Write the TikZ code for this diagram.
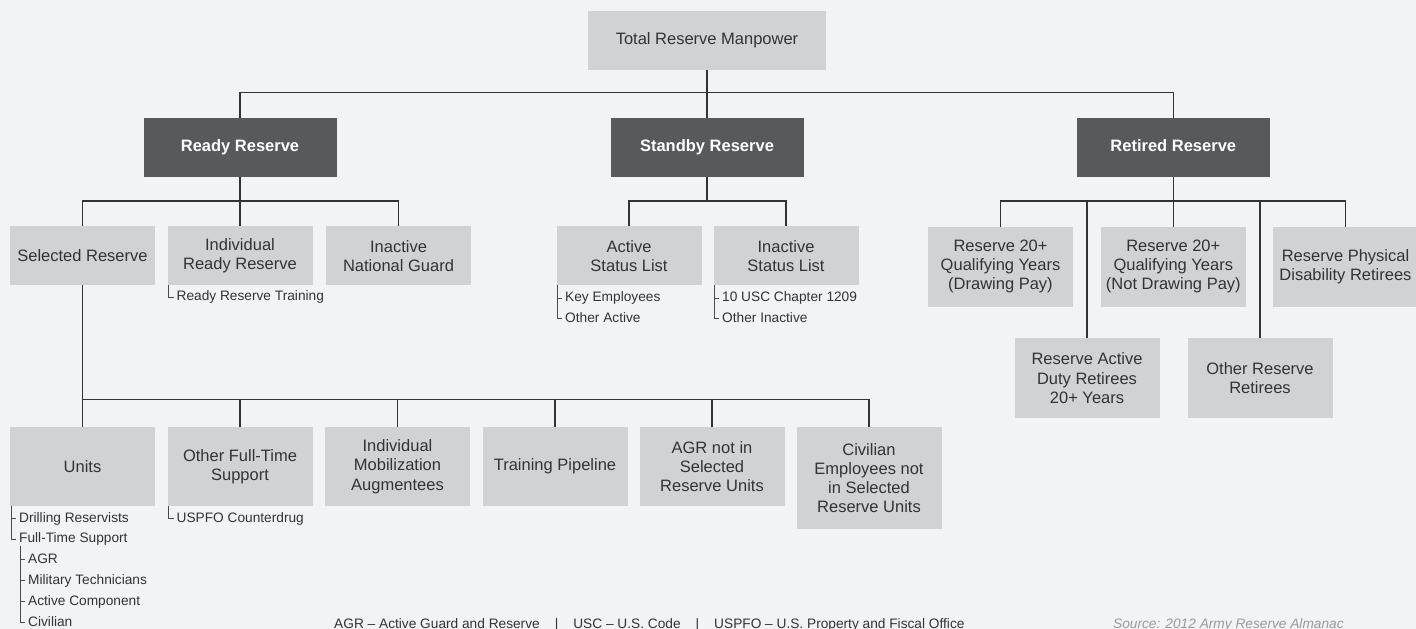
\documentclass[tikz,border=0pt]{standalone}
\usepackage{fontspec}
\setmainfont{Liberation Sans}
\definecolor{bg}{HTML}{F2F3F5}
\definecolor{lightbox}{HTML}{D1D2D4}
\definecolor{darkbox}{HTML}{58595B}
\definecolor{txt}{HTML}{333333}
\definecolor{linec}{HTML}{333333}
\definecolor{brc}{HTML}{4A4A4A}
\definecolor{srcc}{HTML}{9A9A9A}
\tikzset{
  lbox/.style={fill=lightbox, text=txt, inner sep=0pt, minimum width=145pt, minimum height=59pt,
    align=center, font=\fontsize{16.5}{19.2}\selectfont, anchor=north},
  dbox/.style={fill=darkbox, text=white, inner sep=0pt, minimum width=193pt, minimum height=59pt,
    text height=12pt, text depth=3.5pt,
    align=center, font=\fontsize{16.5}{19.2}\selectfont\bfseries, anchor=north},
  conn/.style={draw=linec, line width=1.6pt},
  brline/.style={draw=brc, line width=1pt},
  sublbl/.style={anchor=base west, inner sep=0pt, text height=10pt, text depth=3pt, text=txt,
    font=\fontsize{13.7}{16}\selectfont},
  foot/.style={anchor=base west, inner sep=0pt, text=txt, font=\fontsize{13.7}{16}\selectfont},
}
\begin{document}
\begin{tikzpicture}[x=1pt,y=-1pt]
\useasboundingbox (0,0) rectangle (1416,629);
\fill[bg] (0,0) rectangle (1416,629);

% top levels
\node[lbox, minimum width=238pt, text height=12pt, text depth=3.5pt] (total) at (707,11) {Total Reserve Manpower};
\node[dbox] (ready) at (240,118) {Ready Reserve};
\node[dbox] (standby) at (707,118) {Standby Reserve};
\node[dbox] (retired) at (1173.3,118) {Retired Reserve};

% second row
\node[lbox] (selres) at (82.5,226) {Selected Reserve};
\node[lbox] (irr) at (240,226) {Individual\\Ready Reserve};
\node[lbox] (ing) at (398.5,226) {Inactive\\National Guard};
\node[lbox] (asl) at (629,226) {Active\\Status List};
\node[lbox] (isl) at (786,226) {Inactive\\Status List};

\node[lbox, minimum height=80pt] (r20d) at (1000.5,226.5) {Reserve 20+\\Qualifying Years\\(Drawing Pay)};
\node[lbox, minimum height=80pt] (r20n) at (1173.3,226.5) {Reserve 20+\\Qualifying Years\\(Not Drawing Pay)};
\node[lbox, minimum height=80pt] (rpd) at (1345.5,226.5) {Reserve Physical\\Disability Retirees};
\node[lbox, minimum height=80pt] (rad) at (1087,338) {Reserve Active\\Duty Retirees\\20+ Years};
\node[lbox, minimum height=80pt] (orr) at (1260,338) {Other Reserve\\Retirees};

% bottom row
\node[lbox, minimum height=79pt] (units) at (82.5,427) {Units};
\node[lbox, minimum height=79pt] (ofts) at (240,427) {Other Full-Time\\Support};
\node[lbox, minimum height=79pt] (ima) at (397.5,427) {Individual\\Mobilization\\Augmentees};
\node[lbox, minimum height=79pt] (tp) at (555,427) {Training Pipeline};
\node[lbox, minimum height=79pt] (agr) at (712,427) {AGR not in\\Selected\\Reserve Units};
\node[lbox, minimum height=102pt] (civ) at (869,427) {Civilian\\Employees not\\in Selected\\Reserve Units};

% connectors
\coordinate (bus1) at (707,92.5);
\coordinate (bus2) at (0,201);
\coordinate (bus3) at (0,399.5);
\draw[conn] (total.south) -- (standby.north);
\draw[conn] (ready.north) |- (bus1) -| (retired.north);

\draw[conn] (ready.south) -- (irr.north);
\draw[conn] (selres.north) |- (ing.north |- bus2) -- (ing.north);

\draw[conn] (standby.south) -- (standby.south |- bus2);
\draw[conn] (asl.north) |- (isl.north |- bus2) -- (isl.north);

\draw[conn] (retired.south) -- (r20n.north);
\draw[conn] (r20d.north) |- (rpd.north |- bus2) -- (rpd.north);
\draw[conn] (rad.north) -- (rad.north |- bus2);
\draw[conn] (orr.north) -- (orr.north |- bus2);

\draw[conn] (selres.south) -- (units.north);
\draw[conn] (units.north |- bus3) -| (civ.north);
\draw[conn] (ofts.north) -- (ofts.north |- bus3);
\draw[conn] (ima.north) -- (ima.north |- bus3);
\draw[conn] (tp.north) -- (tp.north |- bus3);
\draw[conn] (agr.north) -- (agr.north |- bus3);

% sub labels
\node[sublbl] (rrt) at (176.5,300.5) {Ready Reserve Training};
\draw[brline] ([xshift=0.8pt]irr.south west) |- ([xshift=-3pt]rrt.west);

\node[sublbl] (ke) at (565,301.5) {Key Employees};
\node[sublbl] (oa) at (565,322) {Other Active};
\draw[brline] ([xshift=0.8pt]asl.south west) |- ([xshift=-3pt]oa.west);
\draw[brline] ([xshift=0.8pt]asl.south west |- ke.west) -- ([xshift=-3pt]ke.west);

\node[sublbl] (usc) at (722,301.5) {10 USC Chapter 1209};
\node[sublbl] (oi) at (722,322) {Other Inactive};
\draw[brline] ([xshift=0.8pt]isl.south west) |- ([xshift=-3pt]oi.west);
\draw[brline] ([xshift=0.8pt]isl.south west |- usc.west) -- ([xshift=-3pt]usc.west);

\node[sublbl] (uspfo) at (176.5,522) {USPFO Counterdrug};
\draw[brline] ([xshift=0.8pt]ofts.south west) |- ([xshift=-3pt]uspfo.west);

\node[sublbl] (dr) at (19,522) {Drilling Reservists};
\node[sublbl] (fts) at (19,542.7) {Full-Time Support};
\draw[brline] ([xshift=1.7pt]units.south west) |- ([xshift=-3pt]fts.west);
\draw[brline] ([xshift=1.7pt]units.south west |- dr.west) -- ([xshift=-3pt]dr.west);

\node[sublbl] (agrl) at (28,563.3) {AGR};
\node[sublbl] (mt) at (28,584.3) {Military Technicians};
\node[sublbl] (ac) at (28,605.3) {Active Component};
\node[sublbl] (civl) at (28,626) {Civilian};
\draw[brline] ([xshift=1.7pt]fts.south west) |- ([xshift=-3pt]civl.west);
\draw[brline] ([xshift=1.7pt]fts.south west |- agrl.west) -- ([xshift=-3pt]agrl.west);
\draw[brline] ([xshift=1.7pt]fts.south west |- mt.west) -- ([xshift=-3pt]mt.west);
\draw[brline] ([xshift=1.7pt]fts.south west |- ac.west) -- ([xshift=-3pt]ac.west);

% footer
\node[foot] (legend) at (334,628) {AGR – Active Guard and Reserve\hspace{15pt}|\hspace{15pt}USC – U.S. Code\hspace{15pt}|\hspace{15pt}USPFO – U.S. Property and Fiscal Office};
\node[foot, text=srcc, font=\fontsize{13.7}{16}\selectfont\itshape] (source) at (1113,628) {Source: 2012 Army Reserve Almanac};
\end{tikzpicture}
\end{document}
